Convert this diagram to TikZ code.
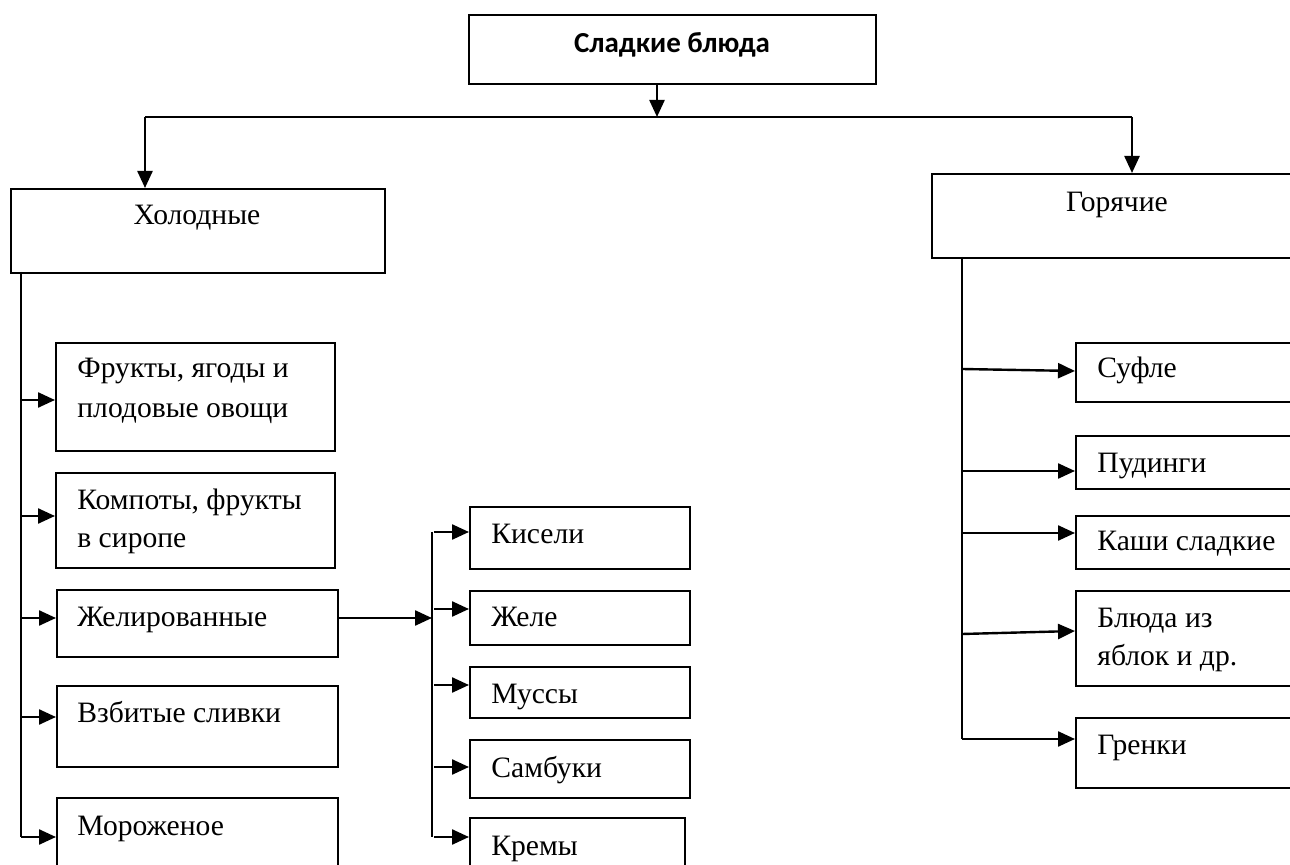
\documentclass[tikz,border=0pt]{standalone}
\usepackage{fontspec}
\setmainfont{Liberation Serif}
\newfontfamily\headfont{Carlito}
\usetikzlibrary{arrows.meta}
\begin{document}
\begin{tikzpicture}[x=0.5pt,y=-0.5pt,
  box/.style={draw, line width=0.9pt, rectangle, inner sep=0pt, anchor=north west},
  lbl/.style={anchor=base west, inner sep=0pt, font=\fontsize{14.8}{21}\selectfont},
  wire/.style={line width=1pt},
  arr/.style={line width=1.2pt, -{Triangle[length=8.5pt,width=7.5pt]}}]
\clip (0,0) rectangle (1290,865);
\fill[white] (0,0) rectangle (1290,865);

% root
\node[box, minimum width=203.5pt, minimum height=34.5pt] (root) at (468,14) {};
\node[anchor=base, inner sep=0pt, font=\headfont\bfseries\fontsize{14.5}{17}\selectfont] (roottxt) at (672,53) {Сладкие блюда};

% two main groups
\node[box, minimum width=187pt, minimum height=42pt] (cold) at (10,188) {};
\node[lbl, anchor=base] (coldtxt) at (197,225) {Холодные};
\node[box, minimum width=190pt, minimum height=42pt] (hot) at (931,173) {};
\node[lbl, anchor=base] (hottxt) at (1117,212) {Горячие};

% distribution bar under the root
\coordinate (hm) at (657,117);
\coordinate (hl) at (145,117);
\coordinate (hr) at (1132,117);
\draw[arr] (hm |- root.south) -- (hm);
\draw[wire] (hl) -- (hr);
\draw[arr] (hl) -- (hl |- cold.north);
\draw[arr] (hr) -- (hr |- hot.north);

% cold dishes
\node[box, minimum width=139.5pt, minimum height=54pt] (fruit) at (55,342) {};
\node[lbl] (fruittxt) at (77,378) {Фрукты, ягоды и};
\node[lbl] (fruittxt2) at (77,418) {плодовые овощи};
\node[box, minimum width=139.5pt, minimum height=47.5pt] (compote) at (55,472) {};
\node[lbl] (compotetxt) at (77,510) {Компоты, фрукты};
\node[lbl] (compotetxt2) at (77,548) {в сиропе};
\node[box, minimum width=140.5pt, minimum height=33.5pt] (jelly) at (56,589) {};
\node[lbl] (jellytxt) at (77,626) {Желированные};
\node[box, minimum width=140.5pt, minimum height=40.5pt] (cream) at (56,685) {};
\node[lbl] (creamtxt) at (77,722) {Взбитые сливки};
\node[box, minimum width=140.5pt, minimum height=50pt] (ice) at (56,797) {};
\node[lbl] (icetxt) at (77,835) {Мороженое};

\coordinate (ltop) at (21,272);
\coordinate (l1) at (21,400);
\coordinate (l2) at (21,516);
\coordinate (l3) at (21,618);
\coordinate (l4) at (21,717);
\coordinate (l5) at (21,837);
\draw[wire] (ltop) -- (l5);
\draw[arr] (l1) -- (l1 -| fruit.west);
\draw[arr] (l2) -- (l2 -| compote.west);
\draw[arr] (l3) -- (l3 -| jelly.west);
\draw[arr] (l4) -- (l4 -| cream.west);
\draw[arr] (l5) -- (l5 -| ice.west);

% gelled dishes
\node[box, minimum width=110pt, minimum height=31pt] (kis) at (469,506) {};
\node[lbl] (kistxt) at (491,544) {Кисели};
\node[box, minimum width=110pt, minimum height=27pt] (zhele) at (469,590) {};
\node[lbl] (zheletxt) at (491,626) {Желе};
\node[box, minimum width=110pt, minimum height=25.5pt] (muss) at (469,666) {};
\node[lbl] (musstxt) at (491,703) {Муссы};
\node[box, minimum width=110pt, minimum height=29pt] (samb) at (469,739) {};
\node[lbl] (sambtxt) at (491,777) {Самбуки};
\node[box, minimum width=107.5pt, minimum height=40pt] (krem) at (469,817) {};
\node[lbl] (kremtxt) at (491,855) {Кремы};

\coordinate (jtop) at (432,532);
\coordinate (j0) at (432,618);
\coordinate (j1) at (434,532);
\coordinate (j2) at (434,609);
\coordinate (j3) at (434,685);
\coordinate (j4) at (434,767);
\coordinate (j5) at (434,837);
\draw[wire] (jtop) -- (432,837);
\draw[arr] (jelly.east |- j0) -- (j0);
\draw[arr] (j1) -- (j1 -| kis.west);
\draw[arr] (j2) -- (j2 -| zhele.west);
\draw[arr] (j3) -- (j3 -| muss.west);
\draw[arr] (j4) -- (j4 -| samb.west);
\draw[arr] (j5) -- (j5 -| krem.west);

% hot dishes
\node[box, minimum width=120pt, minimum height=29.5pt] (sufle) at (1075,342) {};
\node[lbl] (sufletxt) at (1097,378) {Суфле};
\node[box, minimum width=120pt, minimum height=26.5pt] (pud) at (1075,435) {};
\node[lbl] (pudtxt) at (1097,473) {Пудинги};
\node[box, minimum width=120pt, minimum height=26.5pt] (kasha) at (1075,515) {};
\node[lbl] (kashatxt) at (1097,551) {Каши сладкие};
\node[box, minimum width=120pt, minimum height=47.5pt] (apple) at (1075,590) {};
\node[lbl] (appletxt) at (1097,627) {Блюда из};
\node[lbl] (appletxt2) at (1097,665) {яблок и др.};
\node[box, minimum width=120pt, minimum height=35pt] (gren) at (1075,717) {};
\node[lbl] (grentxt) at (1097,754) {Гренки};

\coordinate (rtop) at (962,257);
\coordinate (r1) at (962,369);
\coordinate (r2) at (962,471);
\coordinate (r3) at (962,533);
\coordinate (r4) at (962,634);
\coordinate (r5) at (962,739);
\draw[wire] (rtop) -- (r5);
\draw[arr] (r1) -- (sufle.west |- 0,371);
\draw[arr] (r2) -- (r2 -| pud.west);
\draw[arr] (r3) -- (r3 -| kasha.west);
\draw[arr] (r4) -- (apple.west |- 0,631);
\draw[arr] (r5) -- (r5 -| gren.west);
\end{tikzpicture}
\end{document}
